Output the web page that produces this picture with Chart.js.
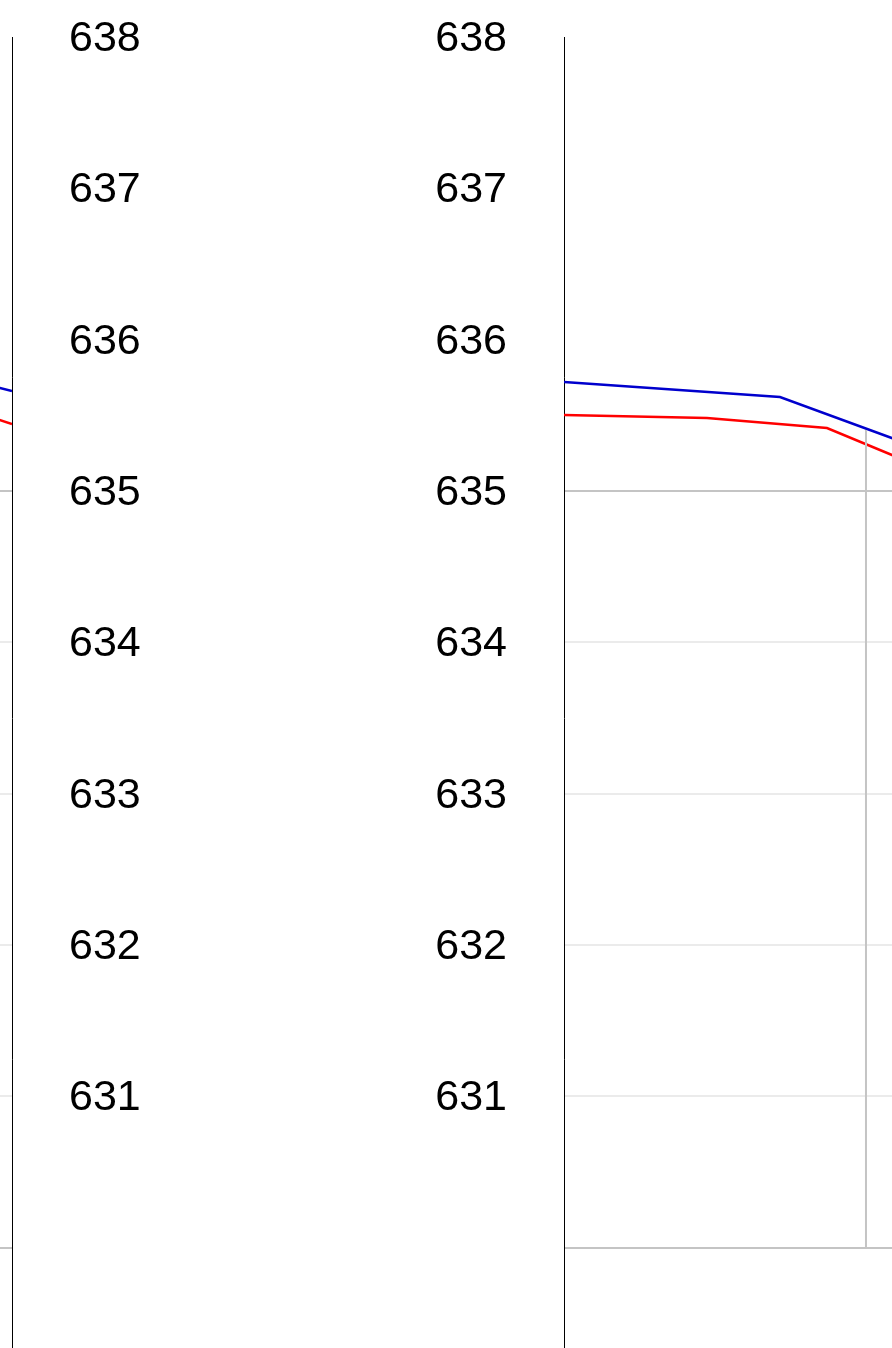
<!DOCTYPE html>
<html>
<head>
<meta charset="utf-8">
<script src="https://cdn.jsdelivr.net/npm/chart.js@4/dist/chart.umd.min.js"></script>
<style>
  html, body { margin: 0; padding: 0; background: #fff; overflow: hidden; width: 892px; height: 1348px; }
  #leftChart { position: absolute; left: -600px; top: 0; }
  #rightChart { position: absolute; left: 0; top: 0; }
</style>
</head>
<body>
<canvas id="leftChart" width="762" height="1439"></canvas>
<canvas id="rightChart" width="1200" height="1439"></canvas>
<script>
// y axis
var yMin = 629;
var yMax = 638;
var yLabels = [631, 632, 633, 634, 635, 636, 637, 638];
var boxTop = 635;
var boxBottom = 630;

// left panel (only its right edge is visible)
var leftX = [9, 10];
var leftBlue = [635.763, 635.661];
var leftRed = [635.576, 635.443];

// right panel
var blueX = [0, 3.396, 6];
var blueY = [635.720, 635.621, 635.220];
var redX = [0, 2.248, 4.135, 6];
var redY = [635.502, 635.482, 635.416, 635.091];
var markerX = [4.748, 4.748];
var markerY = [635.403, 630];

function pts(xs, ys) {
    return xs.map(function(x, i) { return { x: x, y: ys[i] }; });
}

function gridColor(ctx) {
    var v = ctx.tick ? ctx.tick.value : null;
    if (v === boxTop || v === boxBottom) return '#c4c4c4';
    if (v > boxBottom && v < boxTop) return '#ebebeb';
    return 'rgba(0,0,0,0)';
}

function yAxis(position, width) {
    return {
        position: position,
        min: yMin,
        max: yMax,
        afterFit: function(scale) {
            scale.width = width;
            scale.paddingTop = 0;
            scale.paddingBottom = 0;
        },
        border: { display: true, color: '#000', width: 1 },
        grid: { color: gridColor, lineWidth: 2, drawTicks: false },
        ticks: {
            stepSize: 1,
            padding: 57,
            labelOffset: 2,
            color: '#000',
            font: { family: '"Liberation Sans", Arial, sans-serif', size: 43 },
            callback: function(v) { return yLabels.indexOf(v) >= 0 ? String(v) : ''; }
        }
    };
}

var common = {
    responsive: false,
    animation: false,
    layout: { padding: { top: 37, bottom: 40, left: 0, right: 0 } },
    plugins: { legend: { display: false }, tooltip: { enabled: false } },
    elements: { point: { radius: 0 }, line: { tension: 0, borderWidth: 2.5 } }
};

// Left panel
new Chart(document.getElementById('leftChart'), {
    type: 'line',
    data: {
        datasets: [
            { data: pts(leftX, leftBlue), borderColor: '#0000cd' },
            { data: pts(leftX, leftRed), borderColor: '#ff0000' }
        ]
    },
    options: Object.assign({}, common, {
        scales: {
            x: { type: 'linear', min: 0, max: 10, display: false },
            y: yAxis('right', 150)
        }
    })
});

// Right panel
new Chart(document.getElementById('rightChart'), {
    type: 'line',
    data: {
        datasets: [
            { data: pts(markerX, markerY), borderColor: '#c4c4c4', borderWidth: 2 },
            { data: pts(blueX, blueY), borderColor: '#0000cd' },
            { data: pts(redX, redY), borderColor: '#ff0000' }
        ]
    },
    options: Object.assign({}, common, {
        scales: {
            x: { type: 'linear', min: 0, max: 10, display: false },
            y: yAxis('left', 564)
        }
    })
});
</script>
</body>
</html>
